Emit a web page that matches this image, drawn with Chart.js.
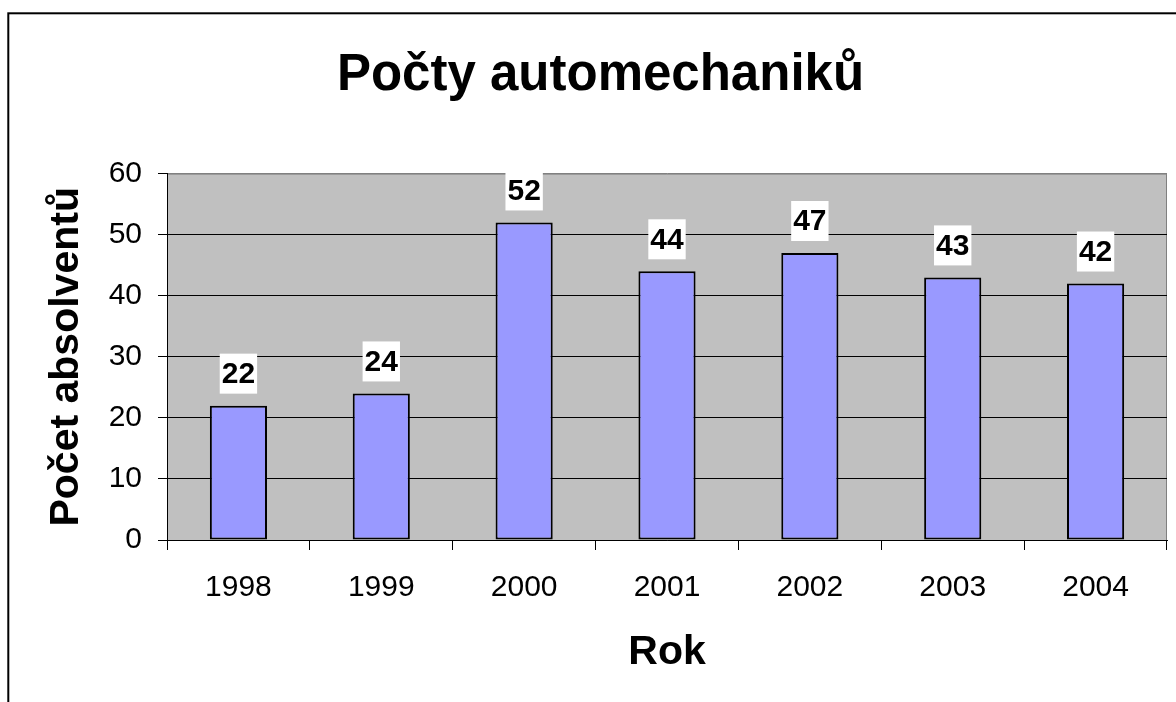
<!DOCTYPE html>
<html>
<head>
<meta charset="utf-8">
<script src="https://cdn.jsdelivr.net/npm/chart.js@4/dist/chart.umd.min.js"></script>
<style>
  html, body { margin: 0; padding: 0; background: #fff; }
  canvas { display: block; }
</style>
</head>
<body>
<canvas id="c" width="1176" height="702"></canvas>
<script>
const categories = ['1998', '1999', '2000', '2001', '2002', '2003', '2004'];
const values = [22, 24, 52, 44, 47, 43, 42];
const yTicks = [0, 10, 20, 30, 40, 50, 60];
const chartTitle = 'Počty automechaniků';
const yTitle = 'Počet absolventů';
const xTitle = 'Rok';

const FONT = '"Liberation Sans", Arial, sans-serif';

const frame = {
  id: 'frame',
  beforeDraw(chart) {
    const ctx = chart.ctx;
    const a = chart.chartArea;
    ctx.save();
    ctx.fillStyle = '#fff';
    ctx.fillRect(0, 0, chart.width, chart.height);
    ctx.strokeStyle = '#000';
    ctx.lineWidth = 2;
    ctx.strokeRect(8.3, 13.3, 3000, 3000);
    ctx.fillStyle = '#C0C0C0';
    ctx.fillRect(a.left, a.top, a.right - a.left, a.bottom - a.top);
    ctx.strokeStyle = '#808080';
    ctx.lineWidth = 1;
    ctx.beginPath();
    ctx.moveTo(a.left, a.top + 0.5);
    ctx.lineTo(a.right - 0.5, a.top + 0.5);
    ctx.lineTo(a.right - 0.5, a.bottom);
    ctx.stroke();
    ctx.restore();
  }
};

const labels = {
  id: 'valueLabels',
  afterDatasetsDraw(chart) {
    const ctx = chart.ctx;
    const meta = chart.getDatasetMeta(0);
    ctx.save();
    ctx.font = 'bold 30px ' + FONT;
    ctx.textAlign = 'center';
    ctx.textBaseline = 'middle';
    meta.data.forEach((bar, i) => {
      const txt = String(values[i]);
      const w = ctx.measureText(txt).width + 4;
      const cx = bar.x;
      const cy = bar.y - 32;
      ctx.fillStyle = '#fff';
      ctx.fillRect(cx - w / 2, cy - 20, w, 40);
      ctx.fillStyle = '#000';
      ctx.fillText(txt, cx, cy + 1);
    });
    ctx.restore();
  }
};

new Chart(document.getElementById('c'), {
  type: 'bar',
  data: {
    labels: categories,
    datasets: [{
      data: values,
      backgroundColor: '#9999FF',
      borderColor: '#000',
      borderWidth: 2,
      borderSkipped: false,
      barPercentage: 0.4,
      categoryPercentage: 1.0
    }]
  },
  options: {
    responsive: false,
    animation: false,
    devicePixelRatio: 1,
    layout: { padding: { left: 34, right: 9, top: 0, bottom: 0 } },
    plugins: {
      legend: { display: false },
      tooltip: { enabled: false },
      title: {
        display: true,
        text: chartTitle,
        color: '#000',
        font: { family: FONT, size: 51, weight: 'bold', lineHeight: 1.2 },
        padding: { top: 45, bottom: 67.4 }
      }
    },
    scales: {
      x: {
        afterFit(s) { s.height = 162; },
        grid: {
          offset: true,
          drawOnChartArea: false,
          drawTicks: true,
          tickLength: 10,
          color: '#000',
          lineWidth: 1
        },
        border: { display: true, color: '#000', width: 1 },
        ticks: {
          color: '#000',
          font: { family: FONT, size: 30 },
          padding: 20,
          maxRotation: 0
        },
        title: {
          display: true,
          text: xTitle,
          color: '#000',
          font: { family: FONT, size: 41, weight: 'bold', lineHeight: 1.2 },
          padding: { top: 0, bottom: 25 }
        }
      },
      y: {
        min: 0,
        max: 60,
        afterFit(s) { s.width = 133; },
        afterBuildTicks(s) { s.ticks = yTicks.map(v => ({ value: v })); },
        grid: {
          color: (c) => (c.tick && c.tick.value === 60 ? '#808080' : '#000'),
          lineWidth: 1,
          drawTicks: true,
          tickLength: 9,
          tickColor: '#000'
        },
        border: { display: true, color: '#000', width: 1 },
        ticks: {
          color: '#000',
          font: { family: FONT, size: 30 },
          padding: 16
        },
        title: {
          display: true,
          text: yTitle,
          color: '#000',
          font: { family: FONT, size: 41, weight: 'bold', lineHeight: 1.2 },
          padding: { top: 8, bottom: 0 }
        }
      }
    }
  },
  plugins: [frame, labels]
});
</script>
</body>
</html>
